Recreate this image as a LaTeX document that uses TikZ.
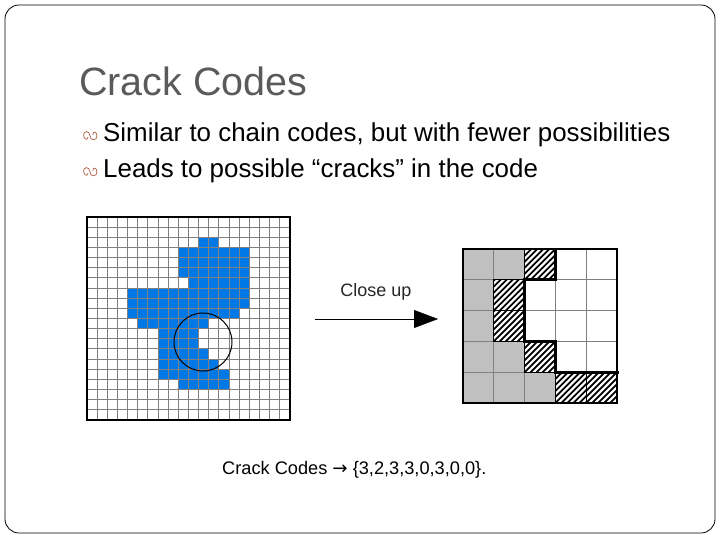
\documentclass[tikz,border=0pt]{standalone}
\usepackage{fontspec}
\setmainfont{Liberation Sans}
\usetikzlibrary{arrows.meta}
\definecolor{titlegray}{RGB}{90,90,90}
\definecolor{bulbrown}{RGB}{170,90,60}
\definecolor{pixblue}{RGB}{0,120,230}
\definecolor{gridgray}{RGB}{128,128,128}
\definecolor{lightg}{RGB}{192,192,192}
\tikzset{
  bul/.style={draw=bulbrown,line width=0.7pt},
  btext/.style={anchor=west,font=\fontsize{25.9}{28}\selectfont,inner sep=0},
}
\begin{document}
\begin{tikzpicture}[x=1pt,y=-1pt]
\useasboundingbox (0,0) rectangle (720,540);
\draw[line width=0.8pt,rounded corners=14pt] (5,5) rectangle (715,533);
\node[anchor=west,inner sep=0,text=titlegray,font=\fontsize{39.5}{42}\selectfont] (title) at (79,81) {Crack Codes};
\node[btext] (t1) at (103,135) {Similar to chain codes, but with fewer possibilities};
\node[btext] (t2) at (103,171) {Leads to possible “cracks” in the code};
\foreach \yy in {136,172}{
  \draw[bul] (84,\yy+1) .. controls (82,\yy-6) and (90,\yy-6) .. (90,\yy) .. controls (90,\yy+5) and (97,\yy+5) .. (97,\yy) .. controls (97,\yy-5) and (92,\yy-5) .. (93,\yy-1) (84,\yy+1) .. controls (85,\yy+4) and (88,\yy+4) .. (88,\yy+1);
}
% left grid
\def\cs{10.15}
\begin{scope}[shift={(87,217)}]
\foreach \r/\a/\b in {2/11/12,3/9/15,4/9/15,5/9/15,6/10/15,7/4/15,8/4/15,9/4/14,10/5/11,11/7/10,12/7/10,13/7/11,14/7/12,15/7/13,16/9/13}{
  \fill[pixblue] (\a*\cs,\r*\cs) rectangle ({(\b+1)*\cs},{(\r+1)*\cs});
}
\foreach \i in {1,...,19}{
  \draw[gridgray,line width=1pt] (\i*\cs,0) -- (\i*\cs,20*\cs);
  \draw[gridgray,line width=1pt] (0,\i*\cs) -- (20*\cs,\i*\cs);
}
\draw[line width=1.5pt] (0,0) rectangle (20*\cs,20*\cs);
\node[draw,circle,line width=1pt,minimum size=58pt,inner sep=0] (circ) at (116,125) {};
\end{scope}
% arrow
\node[inner sep=0,font=\fontsize{18}{20}\selectfont,text=black!85] (cu) at (376,292) {Close up};
\coordinate (as) at (315,319);
\coordinate (ae) at (438,319);
\draw[-{Triangle[length=24pt,width=18pt]}] (as) -- (ae);
% right grid
\def\rc{30.8}
\begin{scope}[shift={(463,249)}]
\foreach \c/\r in {0/0,1/0,0/1,0/2,0/3,1/3,0/4,1/4,2/4}{
  \fill[lightg] (\c*\rc,\r*\rc) rectangle ({(\c+1)*\rc},{(\r+1)*\rc});}
\foreach \c/\r in {2/0,1/1,1/2,2/3,3/4,4/4}{
  \begin{scope}
  \clip (\c*\rc,\r*\rc) rectangle ({(\c+1)*\rc},{(\r+1)*\rc});
  \foreach \k in {0,6,...,60}{
    \draw[line width=1.8pt] ({\c*\rc+\k-30},{(\r+1)*\rc}) -- ++(32,-32);}
  \end{scope}}
\foreach \i in {1,...,4}{
  \draw[gridgray,line width=1.2pt] (\i*\rc,0) -- (\i*\rc,5*\rc);
  \draw[gridgray,line width=1.2pt] (0,\i*\rc) -- (5*\rc,\i*\rc);}
\foreach \c/\r in {2/0,1/1,1/2,2/3,3/4,4/4}{
  \draw[line width=1.2pt] (\c*\rc,\r*\rc) rectangle ({(\c+1)*\rc},{(\r+1)*\rc});}
\draw[line width=3pt] (3*\rc,0) -- (3*\rc,\rc) -- (2*\rc,\rc) -- (2*\rc,3*\rc) -- (3*\rc,3*\rc) -- (3*\rc,4*\rc) -- (5*\rc+2,4*\rc);
\draw[line width=2pt] (0,0) rectangle (5*\rc,5*\rc);
\end{scope}
\node[inner sep=0,anchor=west,font=\fontsize{18.2}{20}\selectfont] (cap) at (222,470) {Crack Codes {\fontspec{DejaVu Sans}→} \{3,2,3,3,0,3,0,0\}.};
\end{tikzpicture}
\end{document}
